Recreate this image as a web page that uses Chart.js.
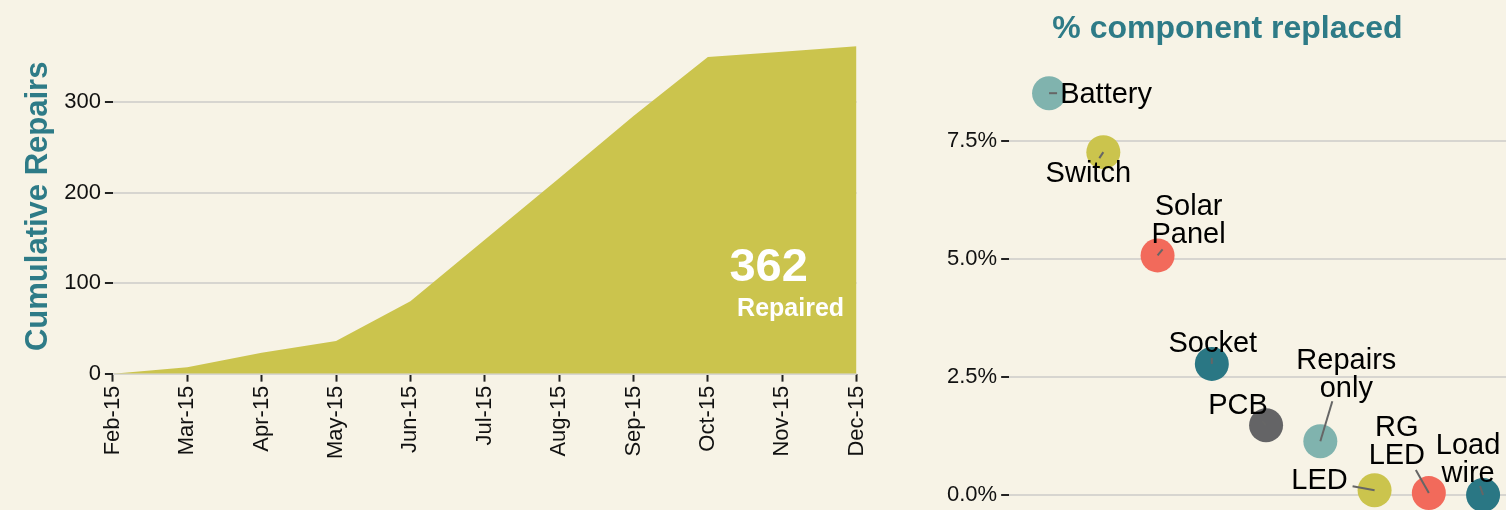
<!DOCTYPE html>
<html>
<head>
<meta charset="utf-8">
<script src="https://cdn.jsdelivr.net/npm/chart.js@4"></script>
<style>
  body { margin: 0; background: #f7f3e6; width: 1506px; height: 510px; overflow: hidden; position: relative; }
  #left { position: absolute; left: 0; top: 0; width: 887px; height: 510px; }
  #right { position: absolute; left: 936px; top: 0; width: 576px; height: 540px; }
</style>
</head>
<body>
<div id="left"><canvas id="repairsChart"></canvas></div>
<div id="right"><canvas id="componentChart"></canvas></div>
<script>
// cumulative repairs per month
const months = ['Feb-15', 'Mar-15', 'Apr-15', 'May-15', 'Jun-15', 'Jul-15', 'Aug-15', 'Sep-15', 'Oct-15', 'Nov-15', 'Dec-15'];
const cumulativeRepairs = [0, 7, 23, 36, 80, 148, 216, 285, 350, 356, 362];
const repairTicks = [0, 100, 200, 300];

// share of repairs where a component was replaced
const components = ['Battery', 'Switch', 'Solar\nPanel', 'Socket', 'PCB', 'Repairs\nonly', 'LED', 'RG\nLED', 'Load\nwire'];
const componentRank = [1, 2, 3, 4, 5, 6, 7, 8, 9];
const pctReplaced = [8.52, 7.27, 5.08, 2.78, 1.48, 1.14, 0.10, 0.04, 0.0];
const pctTicks = [0, 2.5, 5, 7.5];

const teal = '#2e7b87';
const fontFamily = '"Liberation Sans", Arial, sans-serif';
Chart.defaults.font.family = fontFamily;
Chart.defaults.color = '#111';

// where the repel-style labels sit relative to each point
const labelLayout = [
  { dx: 57, dy: 2, lx: 8, ly: 0 },
  { dx: -15, dy: 22, lx: -4, ly: 6 },
  { dx: 31, dy: -48, lx: 5, ly: -6 },
  { dx: 1, dy: -20, lx: 0, ly: -6 },
  { dx: -28, dy: -19, lx: -4, ly: -4 },
  { dx: 26, dy: -80, lx: 12, ly: -40 },
  { dx: -55, dy: -9, lx: -22, ly: -4 },
  { dx: -32, dy: -65, lx: -13, ly: -23 },
  { dx: -15, dy: -49, lx: -3, ly: -9 }
];
const pointColors = ['#80b3ae', '#cbc44d', '#f26a5b', '#2a7784', '#646466', '#80b3ae', '#cbc44d', '#f26a5b', '#2a7784'];

const totalLabel = {
  id: 'totalLabel',
  afterDatasetsDraw(chart) {
    const ctx = chart.ctx;
    const pts = chart.getDatasetMeta(0).data;
    const last = pts[pts.length - 1];
    ctx.save();
    ctx.fillStyle = '#fff';
    ctx.textAlign = 'center';
    ctx.textBaseline = 'middle';
    ctx.font = 'bold 47px ' + fontFamily;
    ctx.fillText(String(cumulativeRepairs[cumulativeRepairs.length - 1]), last.x - 88, last.y + 222);
    ctx.font = 'bold 25px ' + fontFamily;
    ctx.fillText('Repaired', last.x - 66, last.y + 263);
    ctx.restore();
  }
};

const componentLabels = {
  id: 'componentLabels',
  afterDatasetsDraw(chart) {
    const ctx = chart.ctx;
    const pts = chart.getDatasetMeta(0).data;
    ctx.save();
    pts.forEach((pt, i) => {
      const lab = labelLayout[i];
      ctx.strokeStyle = '#666';
      ctx.lineWidth = 2;
      ctx.beginPath();
      ctx.moveTo(pt.x, pt.y);
      ctx.lineTo(pt.x + lab.lx, pt.y + lab.ly);
      ctx.stroke();
      ctx.fillStyle = '#000';
      ctx.font = '29px ' + fontFamily;
      ctx.textAlign = 'center';
      ctx.textBaseline = 'middle';
      components[i].split('\n').forEach((line, j) => {
        ctx.fillText(line, pt.x + lab.dx, pt.y + lab.dy + j * 28);
      });
    });
    ctx.restore();
  }
};

new Chart(document.getElementById('repairsChart'), {
  type: 'line',
  data: {
    labels: months,
    datasets: [{
      data: cumulativeRepairs,
      fill: 'origin',
      backgroundColor: '#cbc44d',
      borderWidth: 0,
      pointRadius: 0,
      tension: 0
    }]
  },
  options: {
    responsive: true,
    maintainAspectRatio: false,
    animation: false,
    layout: { autoPadding: false, padding: { top: 39, bottom: 47, left: 11, right: 20 } },
    plugins: { legend: { display: false }, tooltip: { enabled: false } },
    scales: {
      x: {
        border: { display: false },
        grid: { drawOnChartArea: false, tickLength: 8, tickColor: '#222', tickWidth: 2 },
        ticks: { maxRotation: 90, minRotation: 90, autoSkip: false, font: { size: 22 }, padding: 4 }
      },
      y: {
        min: 0,
        max: 370,
        afterBuildTicks: s => { s.ticks = repairTicks.map(v => ({ value: v })); },
        border: { display: false },
        grid: { color: '#d7d5d0', lineWidth: 2, tickColor: '#222', tickLength: 8, tickWidth: 2 },
        ticks: { font: { size: 22 }, padding: 4 },
        title: { display: true, text: 'Cumulative Repairs', color: teal, font: { size: 31, weight: 'bold' }, padding: { top: 9, bottom: 3 } }
      }
    }
  },
  plugins: [totalLabel]
});

new Chart(document.getElementById('componentChart'), {
  type: 'scatter',
  data: {
    datasets: [{
      data: componentRank.map((r, i) => ({ x: r, y: pctReplaced[i] })),
      pointRadius: 17,
      pointBorderWidth: 0,
      pointBackgroundColor: pointColors,
      clip: false
    }]
  },
  options: {
    responsive: true,
    maintainAspectRatio: false,
    animation: false,
    layout: { autoPadding: false, padding: { left: 7, right: 0, top: 0, bottom: 0 } },
    plugins: {
      legend: { display: false },
      tooltip: { enabled: false },
      title: { display: true, text: '% component replaced', color: teal, font: { size: 32, weight: 'bold' }, padding: { top: 10, bottom: 8 } }
    },
    scales: {
      x: { display: false, min: 0.264, max: 9.533 },
      y: {
        min: -0.59,
        max: 9.30,
        afterBuildTicks: s => { s.ticks = pctTicks.map(v => ({ value: v })); },
        border: { display: false },
        grid: { color: '#d7d5d0', lineWidth: 2, tickColor: '#222', tickLength: 8, tickWidth: 2 },
        ticks: { font: { size: 22 }, padding: 4, callback: v => v.toFixed(1) + '%' }
      }
    }
  },
  plugins: [componentLabels]
});
</script>
</body>
</html>
